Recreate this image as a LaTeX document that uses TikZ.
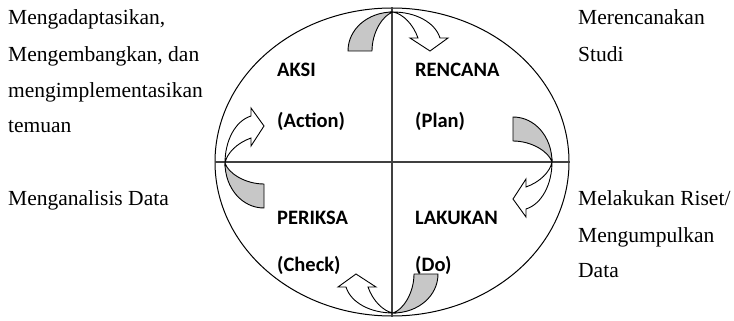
\documentclass[tikz,border=0pt]{standalone}
\usepackage{fontspec}
\setmainfont{Liberation Serif}
\newfontfamily\judul{Carlito}
\usetikzlibrary{shapes, positioning, calc}

\begin{document}
\begin{tikzpicture}[x=1pt, y=-1pt,
    ket/.style={anchor=base west, inner sep=0pt, font=\fontsize{21.5}{26}\selectfont},
    tahap/.style={anchor=base west, inner sep=0pt, font=\judul\bfseries\fontsize{20.5}{24}\selectfont},
    sumbu/.style={draw=black!75, line width=1.6pt},
    bayang/.style={draw=black, fill=black!22, line width=0.9pt, line join=round},
    putih/.style={draw=black, fill=white, line width=0.9pt},
    putar/.pic={
        \path[bayang] (-45,39) .. controls (-45,17) and (-25,0) .. (0,0)
            .. controls (-10,3) and (-21,20) .. (-21,39) -- cycle;
        \path[putih] (0,0) .. controls (22,0) and (42,10) .. (47,26) -- (55,26) -- (37,39)
            -- (17,26) -- (25,26) .. controls (20,12) and (10,2) .. (0,0) -- cycle;
    }]
    \useasboundingbox (0,0) rectangle (734,321);

    % lingkaran dan sumbu
    \node[draw, ellipse, minimum width=354pt, minimum height=308pt, inner sep=0pt, line width=1pt] (siklus) at (392,162) {};
    \draw[sumbu] (siklus.north) -- (siklus.south);
    \draw[sumbu] (siklus.west) -- (siklus.east);

    % tahap
    \node[tahap] (Aksi1) at (277,77) {AKSI};
    \node[tahap] (Aksi2) at (277,127) {(Action)};
    \node[tahap] (Rencana1) at (415,77) {RENCANA};
    \node[tahap] (Rencana2) at (415,127) {(Plan)};
    \node[tahap] (Periksa1) at (277,224) {PERIKSA};
    \node[tahap] (Periksa2) at (277,271) {(Check)};
    \node[tahap] (Lakukan1) at (415,224) {LAKUKAN};
    \node[tahap] (Lakukan2) at (415,271) {(Do)};

    % keterangan kiri
    \node[ket] (Kiri1) at (8,25) {Mengadaptasikan,};
    \node[ket] (Kiri2) at (8,62) {Mengembangkan, dan};
    \node[ket] (Kiri3) at (8,97) {mengimplementasikan};
    \node[ket] (Kiri4) at (8,132) {temuan};
    \node[ket] (Kiri5) at (8,205) {Menganalisis Data};

    % keterangan kanan
    \node[ket] (Kanan1) at (578,25) {Merencanakan};
    \node[ket] (Kanan2) at (578,62) {Studi};
    \node[ket] (Kanan3) at (578,205) {Melakukan Riset/};
    \node[ket] (Kanan4) at (578,242) {Mengumpulkan};
    \node[ket] (Kanan5) at (578,277) {Data};

    % panah putar
    \coordinate (atas) at (393,12);
    \coordinate (kanan) at (552,162);
    \coordinate (bawah) at (393,313);
    \coordinate (kiri) at (225,163);
    \pic[rotate=0] at (atas) {putar};
    \pic[rotate=-90] at (kanan) {putar};
    \pic[rotate=180] at (bawah) {putar};
    \pic[rotate=90] at (kiri) {putar};
\end{tikzpicture}
\end{document}
